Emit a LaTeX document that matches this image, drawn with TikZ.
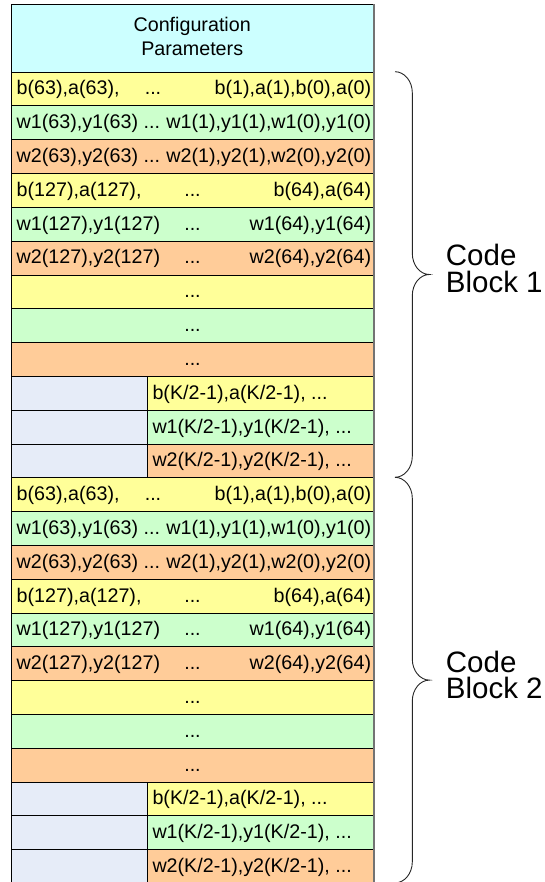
\documentclass[tikz,border=0pt]{standalone}
\usepackage{fontspec}
\setmainfont{Liberation Sans}
\definecolor{hdrcol}{HTML}{CCFFFF}
\definecolor{yel}{HTML}{FFFF99}
\definecolor{grn}{HTML}{CCFFCC}
\definecolor{org}{HTML}{FFCC99}
\definecolor{padcol}{HTML}{E6ECF8}
\newcommand\rowfont{\fontsize{19.7}{23.3}\selectfont}
\newcommand\labfont{\fontsize{29.5}{26.7}\selectfont}
\tikzset{
  cell/.style={draw=black, line width=0.9pt, anchor=north west, inner sep=0pt,
               minimum height=33.8pt},
  txt/.style={font=\rowfont, inner sep=0pt},
  lab/.style={font=\labfont, inner sep=0pt, align=left, anchor=base west},
  bracket/.style={draw=black!85, line width=0.9pt},
}
\begin{document}
\begin{tikzpicture}[x=1pt, y=-1pt]
\useasboundingbox (0,0) rectangle (545,882);
\clip (0,0) rectangle (545,882);

% header cell
\node[cell, fill=hdrcol, minimum width=362.3pt, minimum height=67.4pt] (hdr) at (11,4.3) {};
\node[txt, align=center] (hdrtxt) at (192.2,36.4) {Configuration\\Parameters};

\foreach \b/\n in {0/1,1/2} {
  % cells of one code block
  \foreach \i/\col in {0/yel,1/grn,2/org,3/yel,4/grn,5/org,6/yel,7/grn,8/org} {
    \pgfmathsetmacro\tp{71.7+(12*\b+\i)*33.8}
    \node[cell, fill=\col, minimum width=362.3pt] (r\b-\i) at (11,\tp) {};
  }
  \foreach \i/\col in {9/yel,10/grn,11/org} {
    \pgfmathsetmacro\tp{71.7+(12*\b+\i)*33.8}
    \node[cell, fill=padcol, minimum width=136pt] (p\b-\i) at (11,\tp) {};
    \node[cell, fill=\col, minimum width=226.3pt] (r\b-\i) at (147,\tp) {};
  }
  % texts
  \pgfmathsetmacro\yb{71.7+405.6*\b+23.3}
  \node[txt, anchor=base west] (a\b-0) at (16.5,{\yb+0*33.8}) {b(63),a(63),};
  \node[txt, anchor=base]      (m\b-0) at (153,{\yb+0*33.8}) {...};
  \node[txt, anchor=base east] (z\b-0) at (371.3,{\yb+0*33.8}) {b(1),a(1),b(0),a(0)};
  \node[txt, anchor=base west] (a\b-1) at (16.5,{\yb+1*33.8}) {w1(63),y1(63) ...};
  \node[txt, anchor=base east] (z\b-1) at (371.3,{\yb+1*33.8}) {w1(1),y1(1),w1(0),y1(0)};
  \node[txt, anchor=base west] (a\b-2) at (16.5,{\yb+2*33.8}) {w2(63),y2(63) ...};
  \node[txt, anchor=base east] (z\b-2) at (371.3,{\yb+2*33.8}) {w2(1),y2(1),w2(0),y2(0)};
  \node[txt, anchor=base west] (a\b-3) at (16.5,{\yb+3*33.8}) {b(127),a(127),};
  \node[txt, anchor=base]      (m\b-3) at (192.5,{\yb+3*33.8}) {...};
  \node[txt, anchor=base east] (z\b-3) at (371.3,{\yb+3*33.8}) {b(64),a(64)};
  \node[txt, anchor=base west] (a\b-4) at (16.5,{\yb+4*33.8}) {w1(127),y1(127)};
  \node[txt, anchor=base]      (m\b-4) at (192.5,{\yb+4*33.8}) {...};
  \node[txt, anchor=base east] (z\b-4) at (371.3,{\yb+4*33.8}) {w1(64),y1(64)};
  \node[txt, anchor=base west] (a\b-5) at (16.5,{\yb+5*33.8}) {w2(127),y2(127)};
  \node[txt, anchor=base]      (m\b-5) at (192.5,{\yb+5*33.8}) {...};
  \node[txt, anchor=base east] (z\b-5) at (371.3,{\yb+5*33.8}) {w2(64),y2(64)};
  \node[txt, anchor=base]      (m\b-6) at (192.5,{\yb+6*33.8}) {...};
  \node[txt, anchor=base]      (m\b-7) at (192.5,{\yb+7*33.8}) {...};
  \node[txt, anchor=base]      (m\b-8) at (192.5,{\yb+8*33.8}) {...};
  \node[txt, anchor=base west] (a\b-9) at (152.3,{\yb+9*33.8}) {b(K/2-1),a(K/2-1), ...};
  \node[txt, anchor=base west] (a\b-10) at (152.3,{\yb+10*33.8}) {w1(K/2-1),y1(K/2-1), ...};
  \node[txt, anchor=base west] (a\b-11) at (152.3,{\yb+11*33.8}) {w2(K/2-1),y2(K/2-1), ...};

  % brace beside the block
  \pgfmathsetmacro\t{71.7+405.6*\b}
  \pgfmathsetmacro\m{\t+202.8}
  \pgfmathsetmacro\e{\t+405.6}
  \draw[bracket] (395,\t) .. controls (404.5,\t) and (412.3,\t+9.5) .. (412.3,\t+21)
    -- (412.3,\m-21) .. controls (412.3,\m-9.5) and (420,\m) .. (429.3,\m)
    .. controls (420,\m) and (412.3,\m+9.5) .. (412.3,\m+21)
    -- (412.3,\e-21) .. controls (412.3,\e-9.5) and (404.5,\e) .. (395,\e);
  % the base anchor of a two-line label sits on its second line
  \node[lab] (cb\b) at (445.7,{292.5+406.4*\b}) {Code\\Block \n};
}

% outer right edge
\draw[black!55, line width=1.6pt] (hdr.north east) -- (hdr.north east |- 0,882);
\end{tikzpicture}
\end{document}
